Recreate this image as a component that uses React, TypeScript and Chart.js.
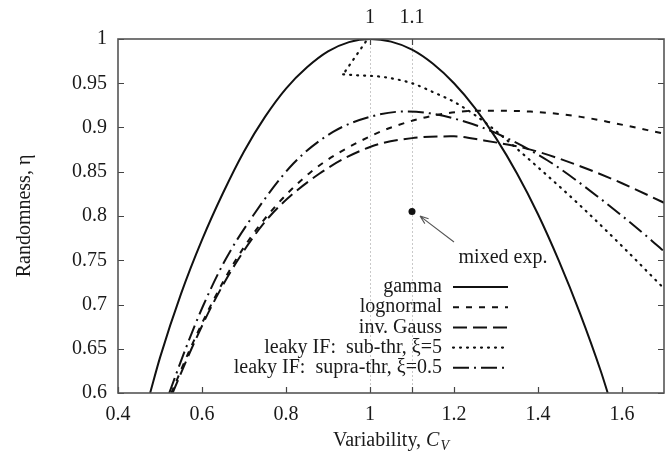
import React, { useEffect, useRef } from "react";
import { Chart, registerables } from "chart.js";

Chart.register(...registerables);

const FONT = '"Liberation Serif", "Times New Roman", serif';
const INK = "#111";
const TEXT = "#1a1a1a";

// ---- data ----
const gammaCv = [0.4765, 0.5, 0.55, 0.6, 0.65, 0.7, 0.75, 0.8, 0.85, 0.9, 0.95, 1.0, 1.05, 1.1, 1.15, 1.2, 1.25, 1.3, 1.35, 1.4, 1.45, 1.5, 1.55, 1.566];
const gammaEta = [0.6, 0.64, 0.712, 0.773, 0.826, 0.873, 0.912, 0.944, 0.968, 0.986, 0.9965, 1.0, 0.997, 0.988, 0.972, 0.95, 0.922, 0.888, 0.848, 0.802, 0.749, 0.69, 0.624, 0.6];

const lognormalCv = [0.527, 0.572, 0.622, 0.68, 0.755, 0.86, 1.0, 1.096, 1.183, 1.263, 1.382, 1.502, 1.581, 1.7];
const lognormalEta = [0.6, 0.65, 0.7, 0.75, 0.8, 0.85, 0.89, 0.907, 0.916, 0.919, 0.918, 0.912, 0.905, 0.893];

const invGaussCv = [0.53, 0.575, 0.625, 0.685, 0.762, 0.88, 1.0, 1.1, 1.2, 1.263, 1.382, 1.502, 1.6, 1.7];
const invGaussEta = [0.6, 0.65, 0.7, 0.75, 0.8, 0.848, 0.878, 0.888, 0.89, 0.886, 0.875, 0.856, 0.837, 0.815];

const subThrHookCv = [0.99, 0.936];
const subThrHookEta = [0.997, 0.96];
const subThrCv = [0.936, 0.97, 1.032, 1.1, 1.15, 1.2, 1.25, 1.3, 1.4, 1.5, 1.6, 1.7];
const subThrEta = [0.96, 0.959, 0.957, 0.95, 0.94, 0.929, 0.914, 0.896, 0.855, 0.812, 0.766, 0.718];

const supraThrCv = [0.522, 0.561, 0.604, 0.655, 0.721, 0.817, 0.912, 1.0, 1.079, 1.143, 1.223, 1.303, 1.422, 1.542, 1.669, 1.7];
const supraThrEta = [0.6, 0.65, 0.7, 0.75, 0.8, 0.859, 0.895, 0.912, 0.918, 0.916, 0.907, 0.893, 0.863, 0.822, 0.773, 0.76];

const mixedExpCv = [1.1];
const mixedExpEta = [0.805];
const mixedExpLabel = "mixed exp.";

const seriesNames = ["gamma", "lognormal", "inv. Gauss", "leaky IF:  sub-thr, ξ=5", "leaky IF:  supra-thr, ξ=0.5"];

const xTickValues = [0.4, 0.6, 0.8, 1.0, 1.2, 1.4, 1.6];
const xTickLabels = ["0.4", "0.6", "0.8", "1", "1.2", "1.4", "1.6"];
const yTickValues = [0.6, 0.65, 0.7, 0.75, 0.8, 0.85, 0.9, 0.95, 1.0];
const yTickLabels = ["0.6", "0.65", "0.7", "0.75", "0.8", "0.85", "0.9", "0.95", "1"];
const topTickValues = [1.0, 1.1];
const topTickLabels = ["1", "1.1"];

const xTitleMain = "Variability, ";
const xTitleSym = "C";
const xTitleSub = "V";
const yTitle = "Randomness, η";

const pts = (xs: number[], ys: number[]) => xs.map((x, i) => ({ x, y: ys[i] }));

const decorPlugin = {
  id: "decor",
  afterDraw(chart: any) {
    const { ctx, chartArea: a, scales } = chart;
    const xs = scales.x;
    const ys = scales.y;
    ctx.save();

    // inward tick marks
    ctx.strokeStyle = "#444";
    ctx.lineWidth = 1.2;
    ctx.setLineDash([]);
    ctx.beginPath();
    xTickValues.forEach((v) => {
      const p = Math.round(xs.getPixelForValue(v)) + 0.5;
      ctx.moveTo(p, a.bottom);
      ctx.lineTo(p, a.bottom - 6);
    });
    topTickValues.forEach((v) => {
      const p = Math.round(xs.getPixelForValue(v)) + 0.5;
      ctx.moveTo(p, a.top);
      ctx.lineTo(p, a.top + 6);
      ctx.moveTo(p, a.bottom);
      ctx.lineTo(p, a.bottom - 6);
    });
    yTickValues.forEach((v) => {
      const p = Math.round(ys.getPixelForValue(v)) + 0.5;
      ctx.moveTo(a.left, p);
      ctx.lineTo(a.left + 6, p);
      ctx.moveTo(a.right, p);
      ctx.lineTo(a.right - 6, p);
    });
    ctx.stroke();

    // frame
    ctx.strokeStyle = "#555";
    ctx.lineWidth = 1.6;
    ctx.strokeRect(a.left, a.top, a.right - a.left, a.bottom - a.top);

    // legend
    const textRight = 442;
    const lineStart = 453;
    const lineEnd = 508;
    const row0 = 287;
    const dy = 20.2;
    ctx.font = `20px ${FONT}`;
    ctx.fillStyle = TEXT;
    ctx.textAlign = "right";
    ctx.textBaseline = "middle";
    seriesNames.forEach((name, i) => {
      const ds = chart.data.datasets[i];
      const yy = row0 + i * dy;
      ctx.fillText(name, textRight, yy);
      ctx.save();
      ctx.strokeStyle = ds.borderColor;
      ctx.lineWidth = ds.borderWidth;
      ctx.lineCap = ds.borderCapStyle || "butt";
      ctx.setLineDash(ds.borderDash || []);
      ctx.beginPath();
      ctx.moveTo(lineStart, yy);
      ctx.lineTo(lineEnd, yy);
      ctx.stroke();
      ctx.restore();
    });

    // mixed exp annotation
    const px = xs.getPixelForValue(mixedExpCv[0]);
    const py = ys.getPixelForValue(mixedExpEta[0]);
    const tipX = px + 8;
    const tipY = py + 4.5;
    const tailX = 454;
    const tailY = 242;
    ctx.strokeStyle = "#555";
    ctx.lineWidth = 1.1;
    ctx.beginPath();
    ctx.moveTo(tailX, tailY);
    ctx.lineTo(tipX, tipY);
    const ang = Math.atan2(tipY - tailY, tipX - tailX);
    const hl = 9;
    ctx.moveTo(tipX, tipY);
    ctx.lineTo(tipX - hl * Math.cos(ang - 0.35), tipY - hl * Math.sin(ang - 0.35));
    ctx.moveTo(tipX, tipY);
    ctx.lineTo(tipX - hl * Math.cos(ang + 0.35), tipY - hl * Math.sin(ang + 0.35));
    ctx.stroke();
    ctx.fillStyle = TEXT;
    ctx.textAlign = "center";
    ctx.textBaseline = "alphabetic";
    ctx.fillText(mixedExpLabel, 503, 263);

    // x title
    ctx.textAlign = "left";
    ctx.font = `20px ${FONT}`;
    const w1 = ctx.measureText(xTitleMain).width;
    ctx.font = `italic 20px ${FONT}`;
    const w2 = ctx.measureText(xTitleSym).width;
    ctx.font = `italic 14px ${FONT}`;
    const w3 = ctx.measureText(xTitleSub).width;
    const total = w1 + w2 + w3 + 1;
    let tx = 391 - total / 2;
    const base = 446;
    ctx.font = `20px ${FONT}`;
    ctx.fillText(xTitleMain, tx, base);
    tx += w1;
    ctx.font = `italic 20px ${FONT}`;
    ctx.fillText(xTitleSym, tx, base);
    tx += w2 + 1;
    ctx.font = `italic 14px ${FONT}`;
    ctx.fillText(xTitleSub, tx, base + 4);

    // y title
    ctx.save();
    ctx.translate(25, (a.top + a.bottom) / 2);
    ctx.rotate(-Math.PI / 2);
    ctx.font = `20px ${FONT}`;
    ctx.textAlign = "center";
    ctx.textBaseline = "middle";
    ctx.fillText(yTitle, 0, 0);
    ctx.restore();

    ctx.restore();
  },
};

export default function App() {
  const ref = useRef<HTMLCanvasElement | null>(null);

  useEffect(() => {
    if (!ref.current) return;
    const base = {
      borderColor: INK,
      backgroundColor: INK,
      borderWidth: 2,
      pointRadius: 0,
      fill: false,
      cubicInterpolationMode: "monotone",
    };
    const chart = new Chart(ref.current, {
      type: "line",
      data: {
        datasets: [
          { ...base, label: seriesNames[0], data: pts(gammaCv, gammaEta) },
          { ...base, label: seriesNames[1], data: pts(lognormalCv, lognormalEta), borderDash: [6, 7] },
          { ...base, label: seriesNames[2], data: pts(invGaussCv, invGaussEta), borderDash: [14, 6] },
          { ...base, label: seriesNames[3], data: pts(subThrCv, subThrEta), borderDash: [1, 6], borderCapStyle: "round", borderWidth: 2.2 },
          { ...base, label: seriesNames[4], data: pts(supraThrCv, supraThrEta), borderDash: [16, 5, 2, 5] },
          { ...base, label: seriesNames[3] + " (hook)", data: pts(subThrHookCv, subThrHookEta), borderDash: [1, 6], borderCapStyle: "round", borderWidth: 2.2, cubicInterpolationMode: "default", tension: 0 },
          { ...base, label: mixedExpLabel, data: pts(mixedExpCv, mixedExpEta), showLine: false, pointRadius: 3.5, pointBackgroundColor: INK, pointBorderWidth: 0 },
        ],
      } as any,
      options: {
        responsive: false,
        animation: false,
        devicePixelRatio: 1,
        layout: { padding: { left: 0, right: 6, top: 0, bottom: 0 } },
        plugins: { legend: { display: false }, tooltip: { enabled: false } },
        scales: {
          x: {
            type: "linear",
            position: "bottom",
            min: 0.4,
            max: 1.7,
            afterBuildTicks: (s: any) => {
              s.ticks = xTickValues.map((v) => ({ value: v }));
            },
            afterFit: (s: any) => {
              s.height = 58;
            },
            ticks: {
              autoSkip: false,
              maxRotation: 0,
              padding: 10,
              color: TEXT,
              font: { family: FONT, size: 20 },
              callback: (_v: any, i: number) => xTickLabels[i],
            },
            grid: { display: false, drawTicks: false },
            border: { display: false },
          },
          x2: {
            type: "linear",
            position: "top",
            min: 0.4,
            max: 1.7,
            afterBuildTicks: (s: any) => {
              s.ticks = topTickValues.map((v) => ({ value: v }));
            },
            afterFit: (s: any) => {
              s.height = 39;
            },
            ticks: {
              autoSkip: false,
              maxRotation: 0,
              padding: 9,
              color: TEXT,
              font: { family: FONT, size: 20 },
              callback: (_v: any, i: number) => topTickLabels[i],
            },
            grid: { display: true, drawTicks: false, drawOnChartArea: true, color: "#c9c9c9", lineWidth: 1 },
            border: { display: false, dash: [2, 2] },
          },
          y: {
            type: "linear",
            position: "left",
            min: 0.6,
            max: 1.0,
            afterBuildTicks: (s: any) => {
              s.ticks = yTickValues.map((v) => ({ value: v }));
            },
            afterFit: (s: any) => {
              s.width = 118;
            },
            ticks: {
              autoSkip: false,
              padding: 11,
              color: TEXT,
              font: { family: FONT, size: 20 },
              callback: (_v: any, i: number) => yTickLabels[i],
            },
            grid: { display: false, drawTicks: false },
            border: { display: false },
          },
        },
      } as any,
      plugins: [decorPlugin],
    });
    return () => chart.destroy();
  }, []);

  return (
    <div style={{ position: "absolute", left: 0, top: 0, width: 670, height: 451, background: "#fff" }}>
      <canvas ref={ref} width={670} height={451} style={{ display: "block", width: 670, height: 451 }} />
    </div>
  );
}
